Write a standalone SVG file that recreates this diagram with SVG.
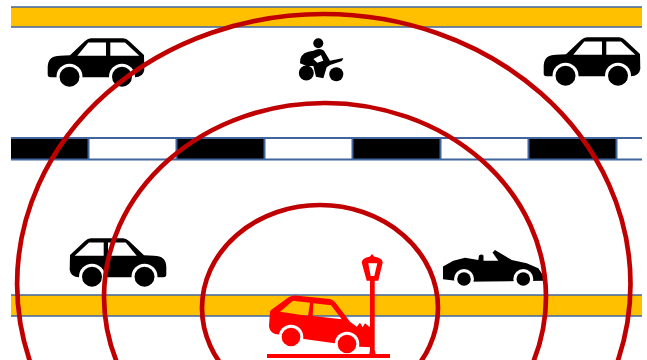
<svg xmlns="http://www.w3.org/2000/svg" width="647" height="360" viewBox="0 0 647 360">
<style>
.bar{fill:#FFC000}
.edge{stroke:#41659F;stroke-width:1.7;fill:none}
.dk{fill:#000}
.ring{fill:none;stroke:#C00000;stroke-width:4.700}
</style>
<defs>
<g id="car">
<path fill-rule="evenodd" d="M47.700 66.700Q48 55.700 60 55.700L70 55.300L85 41Q88 38.300 91 38.300L123 38.300Q126.500 38.300 129 41L144 55L144.300 70Q143 77.300 135 77.300L50.500 77.300Q47.700 77.300 47.700 74.500ZM77.300 55.700L88.300 42.500L106 42.500L106 55.700ZM110.300 42.500L125 42.500L139.300 55.700L110.300 55.700Z"/>
<circle cx="69.500" cy="76.700" r="13" fill="#fff"/><circle cx="122" cy="76.700" r="13" fill="#fff"/>
<circle cx="69.500" cy="76.700" r="10"/><circle cx="122" cy="76.700" r="10"/>
</g>
</defs>
<rect width="647" height="360" fill="#fff"/>
<g id="road-top"><rect class="bar" x="11" y="7" width="631" height="20"/><path class="edge" d="M11 7H642M11 27H642"/></g>
<g id="road-divider">
<rect class="dk" x="11" y="138" width="77" height="21.500"/>
<rect class="dk" x="176.500" y="138" width="87.500" height="21.500"/>
<rect class="dk" x="352.500" y="138" width="87.500" height="21.500"/>
<rect class="dk" x="528.500" y="138" width="87.500" height="21.500"/>
<path d="M11 138H642M11 159.500H642M88.500 138V159.500M176.500 138V159.500M264.500 138V159.500M352.500 138V159.500M440.500 138V159.500M528.500 138V159.500M616.500 138V159.500" fill="none" stroke="#41659F" stroke-width="2"/>
</g>
<g id="road-bottom"><rect class="bar" x="11" y="295" width="631" height="21"/><path class="edge" d="M11 295H642M11 316H642"/></g>
<g id="car-top-left"><use href="#car"/></g>
<g id="car-top-right"><use href="#car" transform="translate(496,-1)"/></g>
<g id="car-lower-left"><use href="#car" transform="translate(214,200) scale(-1,1)"/></g>
<g id="motorbike">
<path fill-rule="evenodd" transform="translate(280,30) scale(0.3333)" d="M60 100Q58 72 85 65L100 62Q120 52 132 62L150 92L190 84L186 93L150 105L140 112L130 145L108 140L100 108L80 108ZM100 87L123 75L130 92L112 98Z"/>
<circle cx="306.300" cy="73" r="7.500"/><circle cx="336.300" cy="74.300" r="7"/>
<circle cx="318.300" cy="43.300" r="5"/>
</g>
<g id="convertible">
<path d="M443 279.300L443 266.500L453.300 260.700L465 257.700L478.300 260L479 255.500Q481.500 253.500 483.500 255.500L483.500 260.700L498.300 260.700L492.500 252.500L495 250L511.700 260L526.700 263.300L538.300 268.300L544 276.700L544 280.700L464 281.700Z"/>
<circle cx="464" cy="279" r="10" fill="#fff"/><circle cx="523.300" cy="279" r="10" fill="#fff"/>
<circle cx="464" cy="279" r="6.800"/><circle cx="523.300" cy="279" r="6.800"/>
</g>
<g id="crashed-car" fill="#f00">
<path fill-rule="evenodd" d="M270 311.700L271 310L289 297Q292 295.300 295 295.500L330 299Q333 300 335 302L350 321.700L356.700 326.700L360 322.700L362.700 327.300L365 323.300L369.300 326.700L372 326L372 347.300L360 346.700L304 339Q290 335 275 334Q269 331 269 326ZM280 311.700L293 300.700L310 302.700L308 316ZM313.300 303.300L331 305.300L341.700 319.300L312.700 316Z"/>
<circle cx="291" cy="337" r="12.300" fill="#fff"/><circle cx="347" cy="344" r="12.300" fill="#fff"/>
<circle cx="291" cy="337" r="9.300"/><circle cx="347" cy="344" r="9.300"/>
<rect x="267" y="354" width="123" height="4"/>
</g>
<g id="lamp" fill="#f00">
<path d="M370 278H374.700V350L376 356H369L370 350Z"/>
<path fill-rule="evenodd" d="M372 254L374 256.500Q382.700 258 382.700 262.500L378.300 280.700L366.700 280.700L361.700 262.500Q362 258 370 256.500ZM368.300 263.300L377.300 263.300L374.300 276L370.700 276Z"/>
</g>
<g id="rings">
<ellipse class="ring" cx="323.800" cy="284" rx="306.700" ry="270"/>
<ellipse class="ring" cx="325" cy="297" rx="221" ry="194"/>
<ellipse class="ring" cx="320" cy="308" rx="118" ry="103"/>
</g>
</svg>
